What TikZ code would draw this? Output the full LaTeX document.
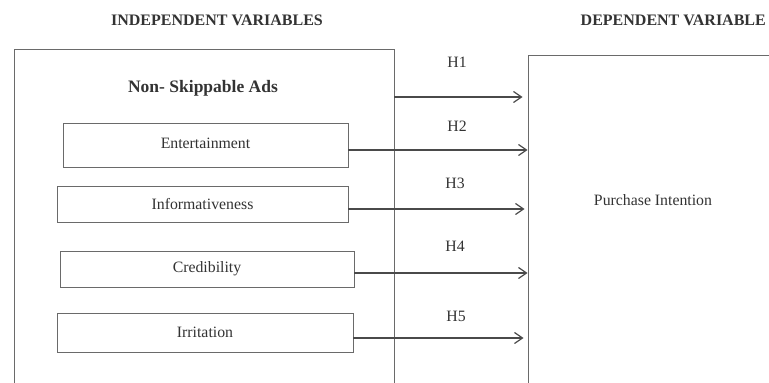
\documentclass[tikz,border=0pt]{standalone}
\usepackage{fontspec}
\setmainfont{Liberation Serif}
\usetikzlibrary{arrows.meta}
\definecolor{edge}{HTML}{6A6A6A}
\definecolor{arr}{HTML}{4A4A4A}
\definecolor{txt}{HTML}{333333}
\tikzset{
  frame/.style={draw=edge, line width=0.9pt, inner sep=0pt},
  varbox/.style={draw=edge, line width=0.9pt, inner sep=0pt, text=txt, font=\fontsize{15.8}{17}\selectfont},
  head/.style={text=txt, font=\bfseries\fontsize{16}{18}\selectfont, inner sep=0pt},
  lbl/.style={text=txt, font=\fontsize{15.8}{17}\selectfont, inner sep=0pt},
  hyp/.style={draw=arr, line width=1.4pt, -{Straight Barb[length=8pt,width=11pt,line width=1.2pt]}}
}
\begin{document}
\begin{tikzpicture}[x=1pt,y=-1pt]
\useasboundingbox (0,0) rectangle (769,383);
\clip (0,0) rectangle (769,383);
\fill[white] (0,0) rectangle (769,383);
% headings
\node[head] (hind) at (217,20) {INDEPENDENT VARIABLES};
\node[head, anchor=east] (hdep) at (766,20) {DEPENDENT VARIABLE};
% outer boxes (extend past the lower/right edges)
\node[frame, minimum width=380pt, minimum height=371pt] (nsa) at (204,234.5) {};
\node[frame, minimum width=262pt, minimum height=365pt] (pi) at (659,237.5) {};
\node[head, font=\bfseries\fontsize{17.5}{19}\selectfont] (nsat) at (203,88) {Non- Skippable Ads};
% variable boxes
\node[varbox, minimum width=285pt, minimum height=44pt] (ent) at (205.5,145) {\raisebox{4pt}{Entertainment}};
\node[varbox, minimum width=291pt, minimum height=36pt] (inf) at (202.5,204) {Informativeness};
\node[varbox, minimum width=294pt, minimum height=36pt] (cre) at (207,269) {Credibility};
\node[varbox, minimum width=296pt, minimum height=39pt] (irr) at (205,332.5) {Irritation};
\node[lbl] (pit) at (653,200) {Purchase Intention};
% arrows
\coordinate (a1) at (394,97);
\draw[hyp] (a1) -- ([xshift=-5pt]a1 -| pi.west);
\draw[hyp] ([yshift=-5pt]ent.east) -- ([yshift=-5pt]ent.east -| pi.west);
\draw[hyp] ([yshift=-5pt]inf.east) -- ([yshift=-5pt,xshift=-3pt]inf.east -| pi.west);
\draw[hyp] ([yshift=-4pt]cre.east) -- ([yshift=-4pt]cre.east -| pi.west);
\draw[hyp] ([yshift=-5.5pt]irr.east) -- ([yshift=-5.5pt,xshift=-4pt]irr.east -| pi.west);
% hypothesis labels
\node[lbl] (h1) at (457,62) {H1};
\node[lbl] (h2) at (457,126) {H2};
\node[lbl] (h3) at (455,183) {H3};
\node[lbl] (h4) at (455,246) {H4};
\node[lbl] (h5) at (456,316) {H5};
\end{tikzpicture}
\end{document}
